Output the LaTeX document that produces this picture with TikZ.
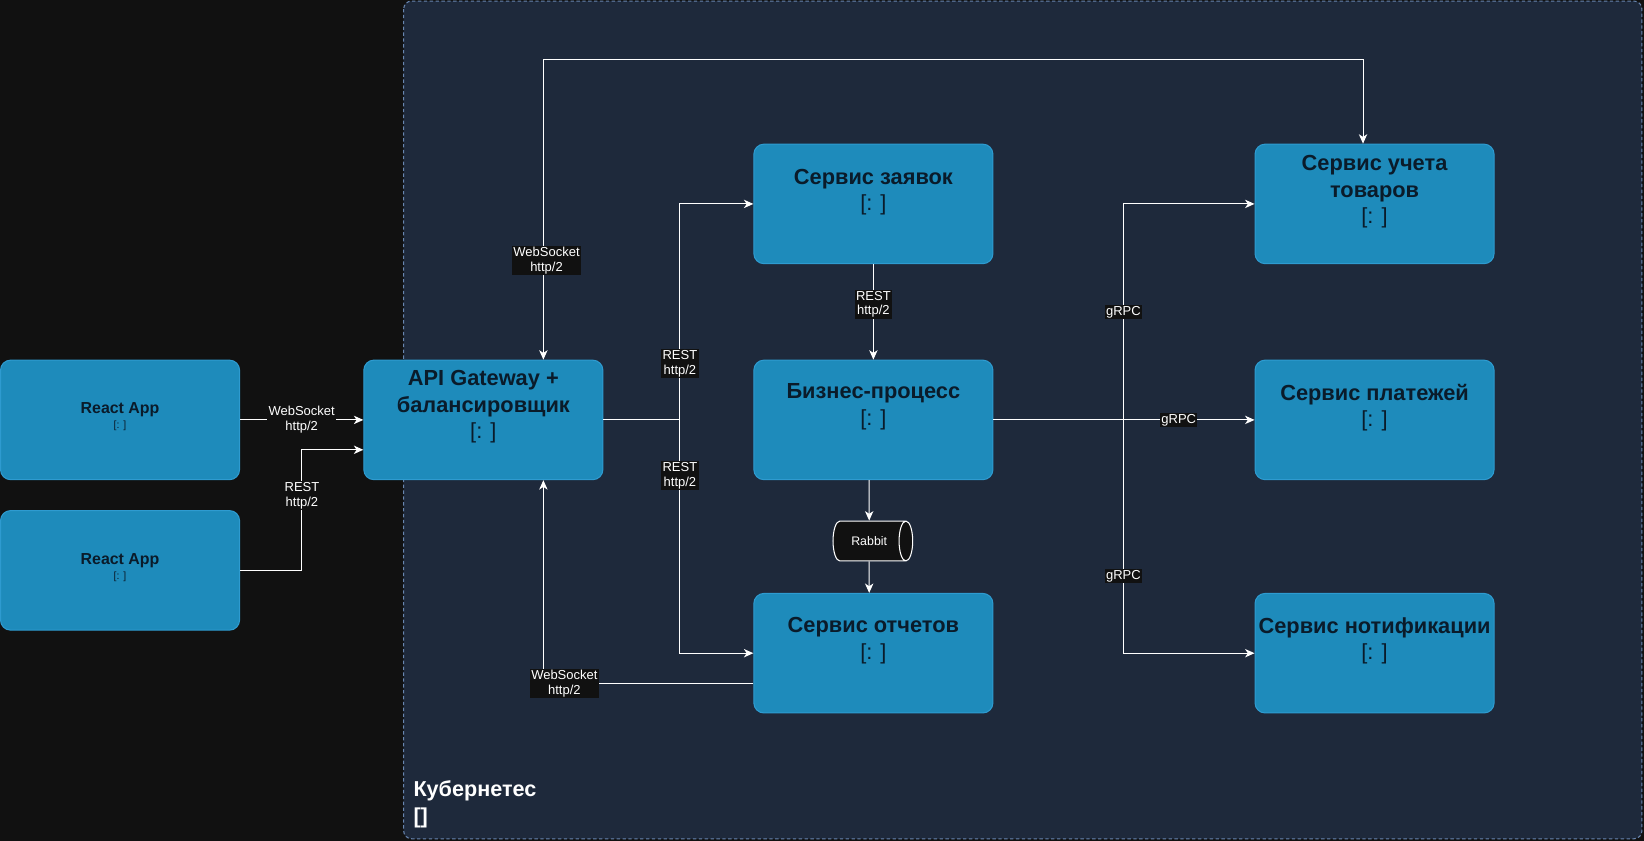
\documentclass[tikz,border=0pt]{standalone}
\usepackage{fontspec}
\setmainfont{Liberation Sans}
\usetikzlibrary{arrows.meta,calc,positioning,shapes.geometric}

\definecolor{pagebg}{HTML}{111111}
\definecolor{kubefill}{HTML}{1E293B}
\definecolor{kubeline}{HTML}{6886B0}
\definecolor{svcfill}{HTML}{1E8BBB}
\definecolor{svcline}{HTML}{2E9BD0}
\definecolor{svctext}{HTML}{0A1B2A}

\newcommand{\techline}{{\mdseries [: ]}}

\begin{document}
\begin{tikzpicture}[x=0.5pt, y=-0.5pt,
      >={Stealth[length=4.5pt,width=4pt,inset=1.3pt]},
      Service/.style={draw=svcline, fill=svcfill, line width=0.5pt, rounded corners=4.8pt,
        minimum width=114pt, minimum height=57pt, inner sep=0pt},
      Title/.style={anchor=north, align=center, inner sep=0pt, text=svctext,
        font=\bfseries\fontsize{10.4}{12.6}\selectfont},
      AppTitle/.style={anchor=north, align=center, inner sep=0pt, text=svctext,
        font=\bfseries\fontsize{7.6}{7}\selectfont},
      Tag/.style={fill=pagebg, text=white, inner sep=0.6pt, align=center,
        font=\fontsize{6.2}{7}\selectfont},
      Conn/.style={draw=white, line width=0.5pt, ->},
      ]
      \useasboundingbox (0,0) rectangle (1568,802);
      \fill[pagebg] (0,0) rectangle (1568,802);
      \draw[kubeline, fill=kubefill, line width=0.5pt, dash pattern=on 1.6pt off 1.2pt,
        rounded corners=3.8pt] (385,1) rectangle (1566,800);

      \node[anchor=north west, inner sep=0pt, align=left, text=white,
        font=\bfseries\fontsize{10.3}{13}\selectfont] (K8s) at (394,744) {Кубернетес\\{[]}};

      % clients
      \node[Service] (RA1) at (114.5,400.5) {};
      \node[Service] (RA2) at (114.5,544) {};
      \node[AppTitle] (RA1-t) at (114.5,383.5) {React App\\{\mdseries\fontsize{5}{6}\selectfont [: ]}};
      \node[AppTitle] (RA2-t) at (114.5,527.5) {React App\\{\mdseries\fontsize{5}{6}\selectfont [: ]}};

      % services
      \node[Service] (GW) at (461,400.5) {};
      \node[Service] (ZS) at (833,194.5) {};
      \node[Service] (BP) at (833,400.5) {};
      \node[Service] (OS) at (833,623) {};
      \node[Service] (UT) at (1311,194.5) {};
      \node[Service] (PL) at (1311,400.5) {};
      \node[Service] (NT) at (1311,623) {};

      \node[Title] (GW-t) at (461,353) {API Gateway +\\балансировщик\\\techline};
      \node[Title] (ZS-t) at (833,160.8) {Сервис заявок\\\techline};
      \node[Title] (BP-t) at (833,365.8) {Бизнес-процесс\\\techline};
      \node[Title] (OS-t) at (833,588.8) {Сервис отчетов\\\techline};
      \node[Title] (UT-t) at (1311,148) {Сервис учета\\товаров\\\techline};
      \node[Title] (PL-t) at (1311,365.8) {Сервис платежей\\\techline};
      \node[Title] (NT-t) at (1311,588.8) {Сервис нотификации\\\techline};

      \node[shape=cylinder, draw=white, fill=pagebg, line width=0.5pt, shape aspect=1.5,
        minimum width=19pt, minimum height=38pt, inner sep=0pt, text=white,
        font=\fontsize{5.9}{7}\selectfont] (RB) at (829,516) {Rabbit};

      \coordinate (GW-rest) at ($(GW.west)+(0,28.5)$);
      \coordinate (GW-ws) at ($(GW.north)!0.5!(GW.north east)$);
      \coordinate (GW-back) at ($(GW.south)!0.5!(GW.south east)$);
      \coordinate (UT-ws) at ($(UT.north)+(-11,0)$);
      \coordinate (OS-ws) at ($(OS.west)!0.5!(OS.south west)$);

      \draw[Conn] (RA1) -- node[Tag] {WebSocket\\http/2} (GW);
      \draw[Conn] (RA2.east) -- ++(59,0) |- (GW-rest) node[Tag, pos=0.31] {REST\\http/2};

      \draw[Conn, <->] (GW-ws) -- (GW-ws |- 0,57) node[Tag, pos=0.33, xshift=1.5pt] {WebSocket\\http/2} -| (UT-ws);
      \draw[Conn] (GW.east) -- ++(73,0) |- (ZS.west) node[Tag, pos=0.13] {REST\\http/2};
      \draw[Conn] (GW.east) -- ++(73,0) |- (OS.west) node[Tag, pos=0.12] {REST\\http/2};
      \draw[Conn] (OS-ws) -| node[Tag, pos=0.45] {WebSocket\\http/2} (GW-back);

      \draw[Conn] (ZS) -- node[Tag, pos=0.42] {REST\\http/2} (BP);
      \draw[Conn] (BP.south -| RB) -- (RB);
      \draw[Conn] (RB) -- (RB |- OS.north);

      \draw[Conn] (BP.east) -- ++(124,0) |- (UT.west) node[Tag, pos=0.25] {gRPC};
      \draw[Conn] (BP.east) -- ++(124,0) |- (NT.west) node[Tag, pos=0.335] {gRPC};
      \draw[Conn] (BP) -- node[Tag, pos=0.71] {gRPC} (PL);
    \end{tikzpicture}
\end{document}
